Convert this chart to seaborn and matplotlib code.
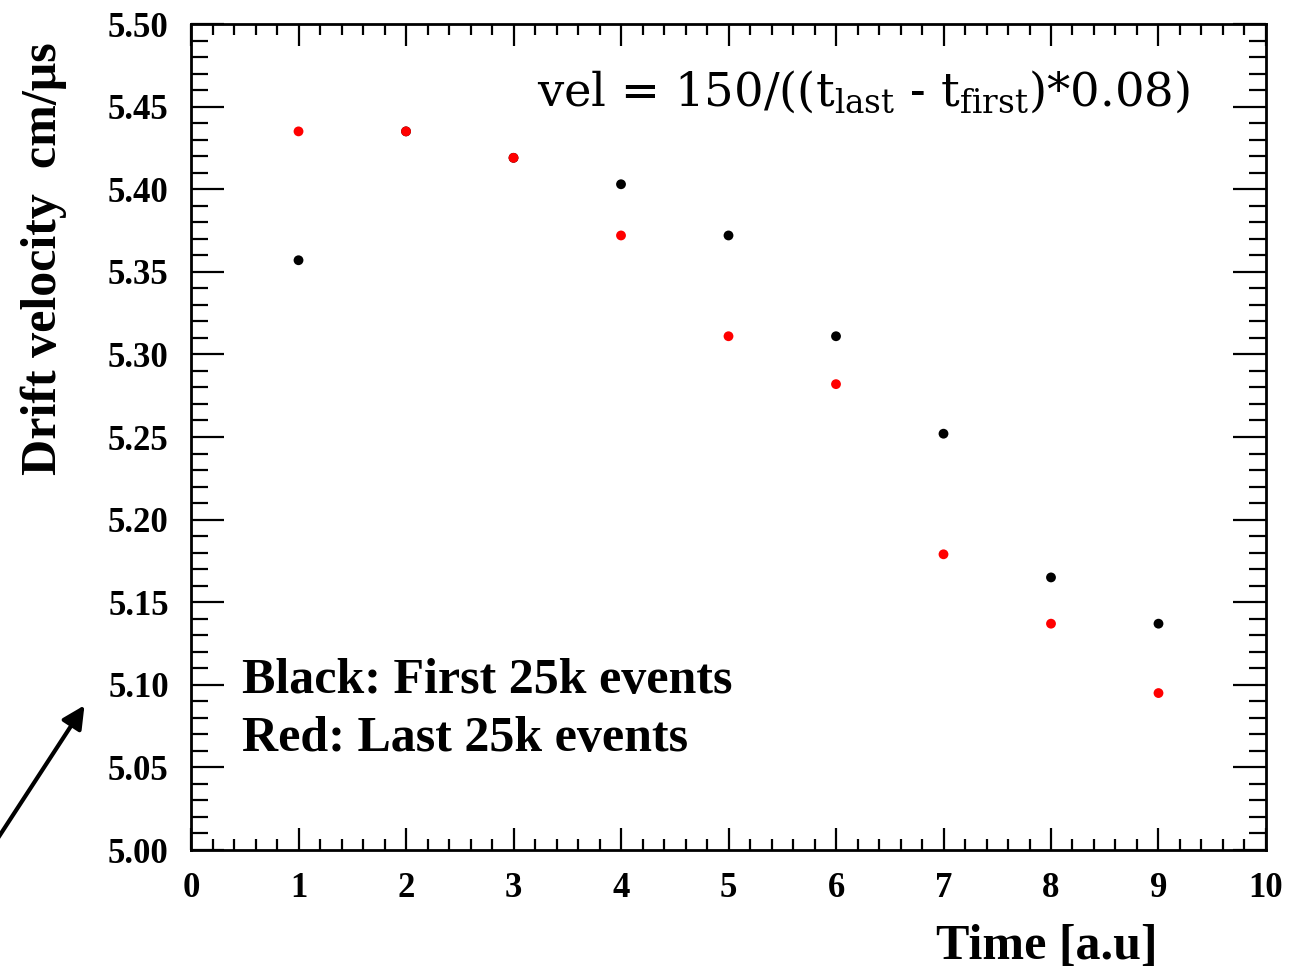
import pandas as pd
import numpy as np
import matplotlib
matplotlib.use('Agg')
import matplotlib.pyplot as plt
from matplotlib.ticker import MultipleLocator
import seaborn as sns

# values
time = [1, 2, 3, 4, 5, 6, 7, 8, 9]
vel_first = [5.357, 5.435, 5.419, 5.403, 5.372, 5.311, 5.252, 5.165, 5.137]
vel_last = [5.435, 5.435, 5.419, 5.372, 5.311, 5.282, 5.179, 5.137, 5.095]

df = pd.concat([
    pd.DataFrame({'time': time, 'vel': vel_first, 'sample': 'first'}),
    pd.DataFrame({'time': time, 'vel': vel_last, 'sample': 'last'}),
], ignore_index=True)

sns.set_style('ticks')
plt.rcParams['font.family'] = ['Liberation Serif', 'DejaVu Serif']
plt.rcParams['mathtext.fontset'] = 'custom'
plt.rcParams['mathtext.rm'] = 'DejaVu Serif'
for key in ['text.color', 'axes.labelcolor', 'xtick.color', 'ytick.color', 'axes.edgecolor']:
    plt.rcParams[key] = 'black'

fig = plt.figure(figsize=(13.03, 9.68), dpi=100)
ax = fig.add_axes([0.1466, 0.1219, 0.825, 0.8533])

sns.scatterplot(data=df, x='time', y='vel', hue='sample',
                palette={'first': 'black', 'last': '#ff0000'},
                s=50, edgecolor='none', legend=False, ax=ax)

ax.set_xlim(0, 10)
ax.set_ylim(5.0, 5.5)
ax.xaxis.set_major_locator(MultipleLocator(1))
ax.xaxis.set_minor_locator(MultipleLocator(0.2))
ax.yaxis.set_major_locator(MultipleLocator(0.05))
ax.yaxis.set_minor_locator(MultipleLocator(0.01))
ax.yaxis.set_major_formatter(matplotlib.ticker.FormatStrFormatter('%.2f'))

for side in ['top', 'right', 'left', 'bottom']:
    ax.spines[side].set_visible(True)
    ax.spines[side].set_linewidth(2)
ax.tick_params(axis='both', which='both', direction='in', top=True, right=True, width=1.6)
ax.tick_params(axis='y', which='major', length=24, pad=16)
ax.tick_params(axis='y', which='minor', length=12)
ax.tick_params(axis='x', which='major', length=16, pad=16)
ax.tick_params(axis='x', which='minor', length=8)
for lab in ax.get_xticklabels() + ax.get_yticklabels():
    lab.set_fontsize(25)
    lab.set_fontweight('bold')

ax.set_xlabel('Time [a.u]', fontsize=36, fontweight='bold')
ax.xaxis.set_label_coords(0.796, -0.09)
ax.set_ylabel('Drift velocity  cm/\u03bcs', fontsize=36, fontweight='bold')
ax.yaxis.set_label_coords(-0.137, 0.716)
ax.yaxis.label.set_va('center')

ax.text(0.322, 0.918, r'vel = 150/((t$_{\rm last}$ - t$_{\rm first}$)*0.08)',
        transform=ax.transAxes, fontsize=33.5, va='center', ha='left',
        family='DejaVu Serif')
ax.text(0.0474, 0.204, 'Black: First 25k events', transform=ax.transAxes,
        fontsize=36, fontweight='bold', va='center', ha='left')
ax.text(0.0474, 0.134, 'Red: Last 25k events', transform=ax.transAxes,
        fontsize=36, fontweight='bold', va='center', ha='left')

fig.patches.append(matplotlib.patches.FancyArrowPatch(
    (-0.005, 1 - 845 / 968), (86 / 1303, 1 - 703 / 968), transform=fig.transFigure,
    arrowstyle='-|>', mutation_scale=34, linewidth=3, color='black'))

fig.savefig('out.png', dpi=100)
